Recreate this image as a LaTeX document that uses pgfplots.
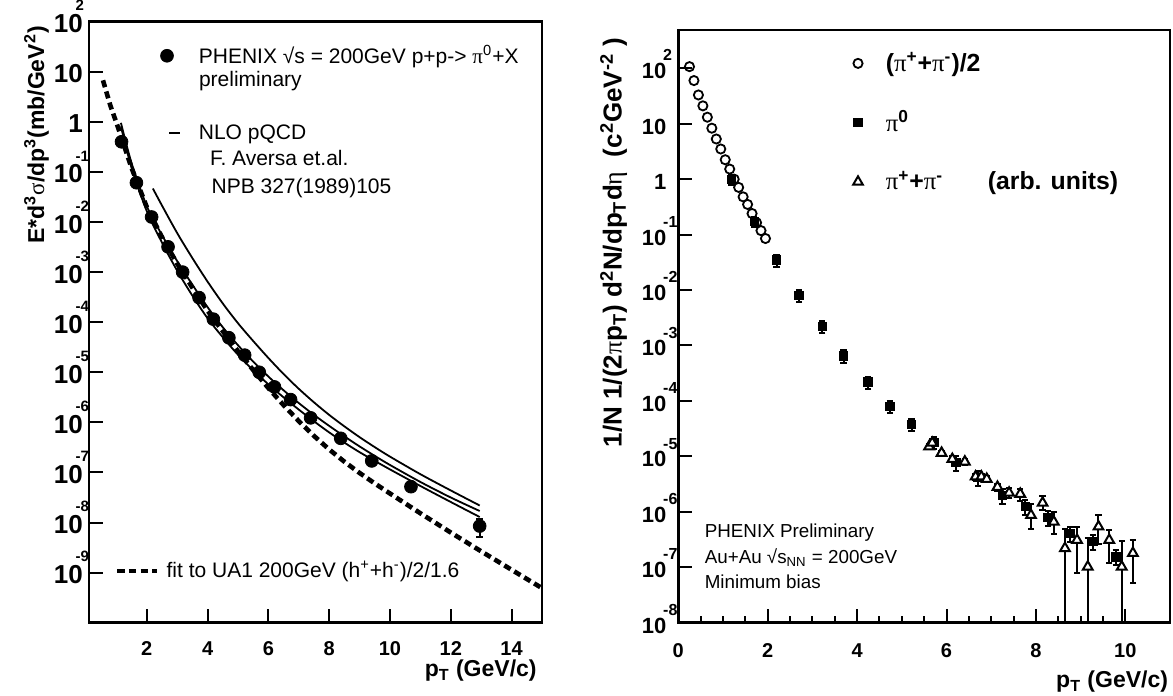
\documentclass[border=0pt]{standalone}
\usepackage{pgfplots}
\pgfplotsset{compat=1.18}
\usepackage{fontspec}
\setmainfont{Liberation Sans}
\newfontfamily\grkfont{Liberation Serif}
\newcommand{\gr}[1]{{\grkfont\mdseries #1}}
% tick labels 10^n with the exponent set above the right end of "10"
\newcommand{\lexp}[1]{10\rlap{\hspace{-3.5pt}\raisebox{10.9pt}{\fontsize{7.5}{7.5}\selectfont #1}}}
\newcommand{\rexp}[1]{10\rlap{\hspace{-1.5pt}\raisebox{8.9pt}{\fontsize{8}{8}\selectfont #1}}}

\tikzset{
  fitline/.style={black, line width=2.3pt, dash pattern=on 3.6pt off 2.2pt},
  nlo/.style={black, line width=0.9pt, smooth},
}

\begin{document}
\begin{tikzpicture}[x=1pt,y=1pt]
\path[use as bounding box] (0,0) rectangle (586.5,348);

% ---- left panel: p+p
\begin{axis}[
  scale only axis, ymode=log,
  tick pos=left, tick align=inside,
  axis line style={line width=1.4pt},
  major tick length=7pt, minor tick length=3.5pt,
  every tick/.style={line width=1pt, black},
  /pgf/number format/assume math mode=true,
  at={(44.5pt,36.65pt)}, anchor=south west,
  width=226.5pt, height=300.5pt,
  xmin=0.1, xmax=15, ymin=1e-10, ymax=1e2,
  xtick={2,4,...,14}, minor x tick num=0,
  ytick={1e2,1e1,1,1e-1,1e-2,1e-3,1e-4,1e-5,1e-6,1e-7,1e-8,1e-9},
  yticklabels={\lexp{2},10,1,\lexp{-1},\lexp{-2},\lexp{-3},\lexp{-4},
    \lexp{-5},\lexp{-6},\lexp{-7},\lexp{-8},\lexp{-9}},
  xticklabel style={font=\bfseries\fontsize{10}{12}\selectfont, yshift=-6pt},
  yticklabel style={font=\bfseries\fontsize{13}{14}\selectfont,
    anchor=base east, xshift=0.4pt, yshift=-5.5pt},
  legend cell align=left,
  legend style={draw=none, fill=none, inner sep=0pt, outer sep=0pt,
    column sep=7pt, row sep=25pt,
    at={(axis description cs:0.1457,0.9676)}, anchor=north west,
    font=\fontsize{10.5}{13}\selectfont},
]
\addplot[fitline, forget plot] coordinates {
  (0.56,6.76) (0.8,2.14) (1.05,0.794) (1.5,0.120) (2,0.0200) (2.5,5.01e-3)
  (3,1.48e-3) (3.5,4.90e-4) (4,1.70e-4) (4.5,6.61e-5) (5,2.63e-5) (5.5,1.11e-5)
  (6,4.84e-6) (6.5,2.21e-6) (7,1.06e-6) (7.5,5.37e-7) (8,2.88e-7) (8.5,1.64e-7)
  (9,9.77e-8) (9.5,6.03e-8) (10,3.80e-8) (11,1.53e-8) (12,6.31e-9) (13,2.66e-9)
  (14,1.14e-9) (15,4.90e-10)
};
\addplot[only marks, mark=*, mark size=3.2pt, black,
  legend image code/.code={\path[draw=none, fill=none] (-6pt,-5pt) rectangle (6pt,5pt);
    \fill[black] (0pt,0pt) circle[radius=3.2pt];}]
coordinates {
  (1.17,0.40) (1.66,0.061) (2.16,0.0126) (2.70,3.2e-3) (3.18,1.0e-3)
  (3.72,3.1e-4) (4.19,1.15e-4) (4.70,4.9e-5) (5.22,2.2e-5) (5.70,1.0e-5)
  (6.20,5.1e-6) (6.73,2.85e-6) (7.39,1.23e-6) (8.38,4.8e-7) (9.40,1.7e-7)
  (10.69,5.2e-8)
};
\addlegendentry{PHENIX √s = 200GeV p+p-> \gr{π}\textsuperscript{0}+X}
\addplot[nlo,
  legend image code/.code={\path[draw=none, fill=none] (-6pt,-5pt) rectangle (6pt,5pt);
    \draw[black, line width=0.9pt] (1pt,0pt) -- (6.5pt,0pt);}]
coordinates {
  (1.15,0.955) (1.5,0.151) (2,0.0209) (2.5,5.50e-3) (3,1.66e-3) (3.5,5.62e-4)
  (4,2.00e-4) (4.5,7.94e-5) (5,3.47e-5) (5.5,1.64e-5) (6,8.22e-6) (6.5,4.37e-6)
  (7,2.43e-6) (7.5,1.41e-6) (8,8.51e-7) (8.5,5.25e-7) (9,3.31e-7) (9.5,2.14e-7)
  (10,1.41e-7) (11,6.46e-8) (12,3.16e-8) (12.95,1.70e-8)
};
\addlegendentry{NLO pQCD}
\addplot[nlo, forget plot] coordinates {
  (1.15,0.813) (1.5,0.120) (2,0.0166) (2.5,3.89e-3) (3,1.07e-3) (3.5,3.39e-4)
  (4,1.20e-4) (4.5,5.01e-5) (5,2.24e-5) (5.5,1.10e-5) (6,5.75e-6) (6.5,3.16e-6)
  (7,1.80e-6) (7.5,1.05e-6) (8,6.31e-7) (8.5,3.94e-7) (9,2.54e-7) (9.5,1.70e-7)
  (10,1.15e-7) (11,5.37e-8) (12,2.57e-8) (12.95,1.29e-8)
};
\addplot[nlo, forget plot] coordinates {
  (2.2,0.0468) (2.5,0.0214) (3,6.03e-3) (3.5,1.91e-3) (4,6.46e-4) (4.5,2.37e-4)
  (5,9.55e-5) (5.5,4.22e-5) (6,1.93e-5) (6.5,9.23e-6) (7,4.68e-6) (7.5,2.51e-6)
  (8,1.41e-6) (8.5,8.32e-7) (9,5.07e-7) (9.5,3.20e-7) (10,2.07e-7) (11,9.23e-8)
  (12,4.37e-8) (12.95,2.19e-8)
};
\addplot[only marks, mark=*, mark size=3.2pt, black, forget plot,
  error bars/.cd, y dir=both, y explicit,
  error bar style={line width=1pt},
  error mark options={rotate=90, mark size=1.6pt, line width=1pt}]
  coordinates {(12.95,8.5e-9) += (0,3.5e-9) -= (0,3.4e-9)};
\end{axis}

% legend of the dashed fit, bottom left
\begin{axis}[
  at={(44.5pt,36.65pt)}, anchor=south west, scale only axis,
  width=226.5pt, height=300.5pt, hide axis,
  xmin=0, xmax=1, ymin=0, ymax=1,
  legend style={draw=none, fill=none, inner sep=0pt, outer sep=0pt,
    column sep=1.5pt,
    at={(axis description cs:0.0574,0.0860)}, anchor=west,
    font=\fontsize{10.5}{13}\selectfont},
]
\addlegendimage{fitline, legend image code/.code={\draw[fitline] (0pt,0pt) -- (20pt,0pt);}}
\addlegendentry{fit to UA1 200GeV (h\textsuperscript{+}+h\textsuperscript{-})/2/1.6}
\end{axis}

% ---- right panel: Au+Au
\begin{axis}[
  scale only axis, ymode=log,
  tick pos=left, tick align=inside,
  axis line style={line width=1.4pt},
  major tick length=7pt, minor tick length=3.5pt,
  every tick/.style={line width=1pt, black},
  /pgf/number format/assume math mode=true,
  at={(339.15pt,36.65pt)}, anchor=south west,
  width=245.85pt, height=296.35pt,
  xmin=0, xmax=11, ymin=1e-8, ymax=490,
  xtick={0,2,...,10}, minor x tick num=3,
  ytick={1e2,1e1,1,1e-1,1e-2,1e-3,1e-4,1e-5,1e-6,1e-7,1e-8},
  yticklabels={\rexp{2},10,1,\rexp{-1},\rexp{-2},\rexp{-3},\rexp{-4},
    \rexp{-5},\rexp{-6},\rexp{-7},\rexp{-8}},
  xticklabel style={font=\bfseries\fontsize{10}{12}\selectfont, yshift=-7pt},
  yticklabel style={font=\bfseries\fontsize{11}{12}\selectfont,
    anchor=base east, xshift=-2.5pt, yshift=-5.25pt},
  legend cell align=left,
  legend style={draw=none, fill=none, inner sep=0pt, outer sep=0pt,
    column sep=5.9pt, row sep=14.2pt,
    at={(axis description cs:0.3411,0.9689)}, anchor=north west,
    font=\bfseries\fontsize{12.4}{14}\selectfont},
]
\addplot[only marks, mark=o, mark size=2.3pt, mark options={line width=0.9pt}, black,
  legend image code/.code={\path[draw=none, fill=none] (-6pt,-5pt) rectangle (6pt,5pt);
    \draw[black, line width=0.9pt] (0pt,0pt) circle[radius=2.3pt];}]
coordinates {
  (0.25,107) (0.35,60) (0.45,33) (0.55,21) (0.65,13.1) (0.75,8.3)
  (0.85,5.3) (0.95,3.5) (1.05,2.24) (1.15,1.52) (1.25,1.0) (1.35,0.71)
  (1.45,0.48) (1.55,0.35) (1.65,0.24) (1.75,0.164) (1.85,0.118) (1.95,0.085)
};
\addlegendentry{(\gr{π}\textsuperscript{+}+\gr{π}\textsuperscript{-})/2}
\addplot[only marks, mark=square*, mark size=2.1pt, black,
  legend image code/.code={\path[draw=none, fill=none] (-6pt,-5pt) rectangle (6pt,5pt);
    \fill[black] (-2.1pt,-2.1pt) rectangle (2.1pt,2.1pt);},
  error bars/.cd, y dir=both, y explicit relative,
  error bar style={line width=1pt},
  error mark options={rotate=90, mark size=1.6pt, line width=1pt}]
coordinates {
  (1.19,1.0) +- (0,0.2) (1.70,0.171) +- (0,0.2) (2.20,0.035) +- (0,0.25)
  (2.70,8.1e-3) +- (0,0.25) (3.22,2.2e-3) +- (0,0.25) (3.70,6.5e-4) +- (0,0.25)
  (4.24,2.2e-4) +- (0,0.25) (4.73,8.0e-5) +- (0,0.25) (5.22,3.8e-5) +- (0,0.25)
  (5.72,1.8e-5) +- (0,0.25) (6.21,7.8e-6) +- (0,0.3) (6.70,4.2e-6) +- (0,0.3)
  (7.25,2.0e-6) +- (0,0.3) (7.76,1.26e-6) +- (0,0.3) (8.27,7.9e-7) +- (0,0.3)
  (8.77,4.1e-7) +- (0,0.3) (9.28,2.9e-7) +- (0,0.3) (9.79,1.55e-7) +- (0,0.3)
};
\addlegendentry{\gr{π}\textsuperscript{0}}
\addplot[only marks, mark=triangle*, mark size=2.8pt,
  mark options={fill=white, line width=1pt}, black,
  legend image code/.code={\path[draw=none, fill=none] (-6pt,-5pt) rectangle (6pt,5pt);
    \draw[black, fill=white, line width=1pt] (90:2.8pt) -- (210:2.8pt) -- (330:2.8pt) -- cycle;},
  error bars/.cd, y dir=both, y explicit,
  error bar style={line width=1pt},
  error mark options={rotate=90, mark size=1.6pt, line width=1pt}]
coordinates {
  (5.61,1.5e-5) += (0,1.5e-6) -= (0,1.5e-6)
  (5.68,1.75e-5) += (0,1.8e-6) -= (0,1.8e-6)
  (5.89,1.15e-5) += (0,1.2e-6) -= (0,1.2e-6)
  (6.13,8.9e-6) += (0,1.1e-6) -= (0,1.1e-6)
  (6.41,8.0e-6) += (0,1.0e-6) -= (0,1.0e-6)
  (6.65,4.3e-6) += (0,5e-7) -= (0,5e-7)
  (6.78,4.3e-6) += (0,5e-7) -= (0,5e-7)
  (6.90,3.9e-6) += (0,5e-7) -= (0,5e-7)
  (7.14,2.8e-6) += (0,4e-7) -= (0,4e-7)
  (7.40,2.2e-6) += (0,4.5e-7) -= (0,4.5e-7)
  (7.65,2.1e-6) += (0,5e-7) -= (0,5e-7)
  (7.89,8.7e-7) += (0,5.4e-7) -= (0,3.7e-7)
  (8.15,1.45e-6) += (0,5.0e-7) -= (0,3.8e-7)
  (8.40,6.6e-7) += (0,3.4e-7) -= (0,2.6e-7)
  (8.65,2.2e-7) += (0,2.8e-7) -= (0,2.19e-7)
  (8.92,3.1e-7) += (0,2.3e-7) -= (0,2.31e-7)
  (9.16,1.02e-7) += (0,2.3e-7) -= (0,1.01e-7)
  (9.40,5.4e-7) += (0,3.3e-7) -= (0,2.8e-7)
  (9.64,3.1e-7) += (0,1.6e-7) -= (0,1.9e-7)
  (9.92,1.02e-7) += (0,1.9e-7) -= (0,1.01e-7)
  (10.17,1.8e-7) += (0,1.3e-7) -= (0,1.28e-7)
};
\addlegendentry{\makebox[51pt][l]{\gr{π}\textsuperscript{+}+\gr{π}\textsuperscript{-}}(arb. units)}
\end{axis}

% ---- texts
\begin{scope}[every node/.style={inner sep=0pt, outer sep=0pt}]
\node[anchor=base west, font=\fontsize{10.5}{13}\selectfont] at (99.5,304.5) {preliminary};
\node[anchor=base west, font=\fontsize{10.5}{13}\selectfont] at (105,265.3) {F. Aversa et.al.};
\node[anchor=base west, font=\fontsize{10.5}{13}\selectfont] at (105.8,251) {NPB 327(1989)105};
\node[rotate=90, anchor=base, font=\bfseries\fontsize{11.5}{13}\selectfont] at (22,280.5)
  {E*d\textsuperscript{3}\gr{σ}/dp\textsuperscript{3}(mb/GeV\textsuperscript{2})};
\node[anchor=base east, font=\bfseries\fontsize{11.5}{12}\selectfont] at (268.3,9.5)
  {p\textsubscript{T} (GeV/c)};
\node[rotate=90, anchor=base, font=\bfseries\fontsize{13}{15}\selectfont] at (310.8,226.75)
  {1/N 1/(2\gr{π}p\textsubscript{T}) d\textsuperscript{2}N/dp\textsubscript{T}d\gr{η}\ \ (c\textsuperscript{2}GeV\textsuperscript{-2} )};
\node[anchor=base east, font=\bfseries\fontsize{11.5}{12}\selectfont] at (584,4)
  {p\textsubscript{T} (GeV/c)};
\node[anchor=base west, font=\fontsize{9.4}{11}\selectfont] at (352.4,79) {PHENIX Preliminary};
\node[anchor=base west, font=\fontsize{9.4}{11}\selectfont] at (352.4,66) {Au+Au √s\textsubscript{NN} = 200GeV};
\node[anchor=base west, font=\fontsize{9.4}{11}\selectfont] at (352.4,53.8) {Minimum bias};
\end{scope}
\end{tikzpicture}
\end{document}
